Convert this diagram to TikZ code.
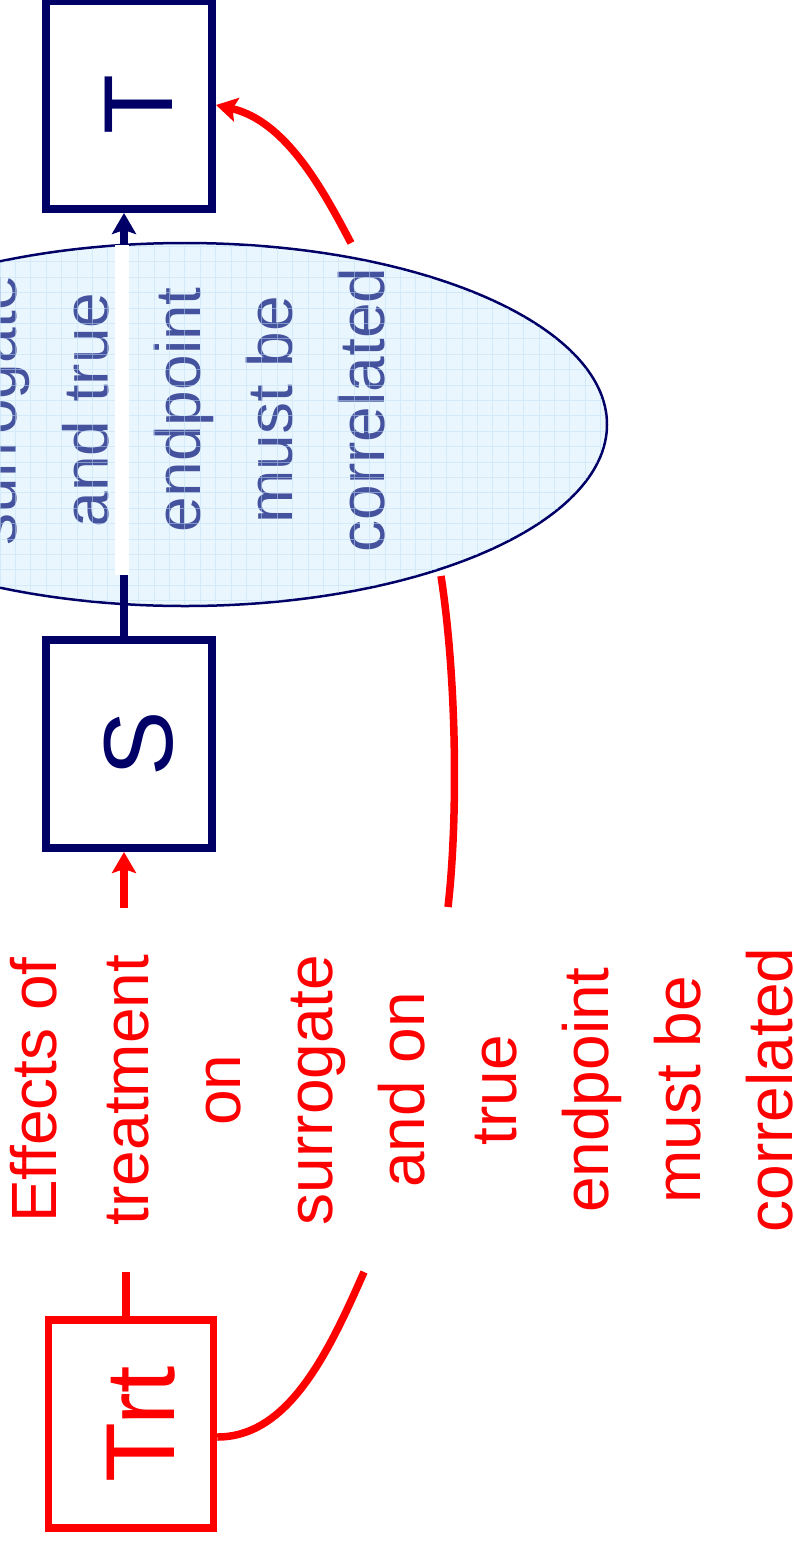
\documentclass[tikz,border=0pt]{standalone}
\usepackage{fontspec}
\usepackage{graphicx}
\setmainfont{Liberation Sans}
\usetikzlibrary{arrows.meta,shapes.geometric}
\definecolor{boxnavy}{HTML}{000066}
\definecolor{trtred}{HTML}{FF0000}
\definecolor{ellfill}{HTML}{EAF6FE}
\definecolor{ellgrid}{HTML}{BFE0F5}
\definecolor{elltext}{HTML}{45529E}

\begin{document}
\begin{tikzpicture}[x=1pt,y=-1pt,
  varbox/.style={draw, line width=8pt, minimum width=166pt, minimum height=208pt,
                 inner sep=0pt, font=\fontsize{98}{110}\selectfont},
  bigtext/.style={rotate=90, align=center, inner sep=0pt, font=\fontsize{64}{92}\selectfont},
  headarrow/.style={-{Stealth[length=21pt,width=24pt,inset=4pt]}},
  redline/.style={trtred, line width=7.5pt},
  navyline/.style={boxnavy, line width=8pt},
  whitegap/.style={white, line width=14pt},
  gridlines/.style={ellgrid, opacity=0.5, line width=1pt, step=15.4pt},
]
\useasboundingbox (0,0) rectangle (794,1543);
\clip (0,0) rectangle (794,1543);

% correlation ellipse between S and T
\node[ellipse, draw=boxnavy, fill=ellfill, line width=2.5pt,
      minimum width=844pt, minimum height=363pt, inner sep=0pt] (ell) at (185,424.5) {};
\node[bigtext, elltext, anchor=south] (elltxt) at (385,410)
  {surrogate\\and true\\endpoint\\must be\\correlated};
\begin{scope}
  \clip (ell.center) ellipse [x radius=421pt, y radius=180.5pt];
  \draw[gridlines] ([xshift=-430pt,yshift=-190pt]ell.center)
                   grid ([xshift=430pt,yshift=190pt]ell.center);
\end{scope}

% variable boxes
\node[varbox, boxnavy] (T) at (129,105) {\hspace*{20pt}\rotatebox{90}{T}};
\node[varbox, boxnavy] (S) at (129,744) {\hspace*{20pt}\rotatebox{90}{S}};
\node[varbox, trtred, line width=7.5pt, minimum width=165pt] (Trt) at (131,1424)
  {\hspace*{20pt}\rotatebox{90}{Trt}};

% S -> T, interrupted where it crosses the ellipse
\draw[navyline, headarrow] ([xshift=-5pt]S.north) -- ([xshift=-5pt]T.south);
\coordinate (gapA) at (122,245);
\coordinate (gapB) at (122,575);
\draw[whitegap] (gapA) -- (gapB);

% treatment-effect statement
\node[bigtext, trtred, anchor=south] (effects) at (793,1090)
  {Effects of\\treatment\\on\\surrogate\\and on\\true\\endpoint\\must be\\correlated};

% Trt -> S, interrupted by the statement
\coordinate (trtstub) at (126,1272);
\draw[redline] ([xshift=-5pt]Trt.north) -- (trtstub);
\coordinate (sfeed) at (124,908);
\draw[redline, headarrow] (sfeed) -- ([xshift=-5pt]S.south);

% Trt -> T, interrupted by the statement and the ellipse
\coordinate (arcA) at (364,1272);
\draw[redline] ([yshift=-13pt]Trt.east) .. controls (288,1437) and (328,1354) .. (arcA);
\coordinate (arcB1) at (448,907);
\coordinate (arcB2) at (441,576);
\draw[redline] (arcB1) .. controls (458,820) and (457,680) .. (arcB2);
\coordinate (arcC) at (351,243);
\draw[redline, headarrow] (arcC) .. controls (323,190) and (286,121) .. (T.east);
\end{tikzpicture}
\end{document}
